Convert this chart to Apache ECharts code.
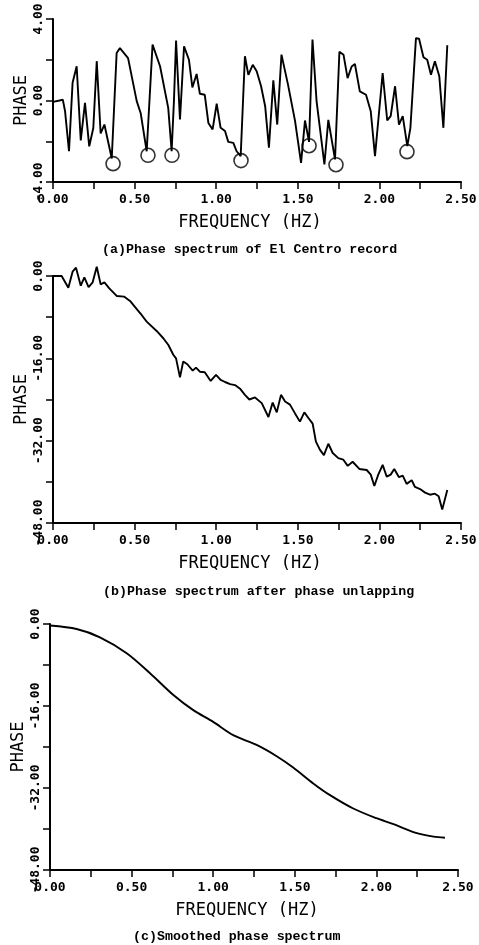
<!DOCTYPE html>
<html>
<head>
<meta charset="utf-8">
<script src="https://cdn.jsdelivr.net/npm/echarts@6/dist/echarts.min.js"></script>
<style>
  html, body { margin: 0; padding: 0; background: #fff; }
  #chart { width: 479px; height: 945px; }
</style>
</head>
<body>
<div id="chart"></div>
<script>
// ---------- Data ----------
var freqA = [0.00,0.04,0.06,0.074,0.098,0.12,0.145,0.17,0.196,0.222,0.247,0.268,0.292,0.315,0.36,0.39,0.41,0.46,0.513,0.537,0.574,0.61,0.656,0.706,0.727,0.741,0.754,0.778,0.803,0.833,0.854,0.88,0.90,0.93,0.952,0.978,1.003,1.027,1.054,1.074,1.105,1.125,1.15,1.176,1.197,1.224,1.248,1.275,1.30,1.323,1.35,1.374,1.40,1.44,1.483,1.52,1.544,1.569,1.59,1.615,1.663,1.687,1.728,1.755,1.78,1.805,1.83,1.85,1.88,1.918,1.947,1.973,2.02,2.048,2.069,2.096,2.12,2.143,2.171,2.19,2.224,2.243,2.27,2.293,2.316,2.34,2.367,2.392,2.416];
var phaseA = [-0.07,0.00,0.04,-0.53,-2.49,0.87,1.68,-1.96,-0.12,-2.25,-1.35,1.93,-1.62,-1.18,-2.85,2.33,2.57,2.08,-0.03,-0.61,-2.49,2.74,1.68,-0.36,-2.49,-0.03,2.94,-0.93,2.66,2.0,0.64,1.3,0.33,0.28,-1.1,-1.42,-0.16,-1.34,-1.5,-2.03,-2.08,-2.49,-2.73,2.17,1.26,1.75,1.44,0.70,-0.28,-2.32,0.99,-1.18,2.25,0.78,-1.0,-3.06,-0.98,-2.03,2.99,-0.03,-3.14,-0.95,-2.89,2.39,2.25,1.1,1.67,1.79,0.45,0.28,-0.53,-2.73,1.35,-0.98,-0.77,0.70,-1.18,-0.77,-2.24,-1.34,3.06,3.03,2.12,2.0,1.26,1.93,1.19,-1.34,2.71];

var circleFreq  = [0.368, 0.582, 0.729, 1.152, 1.569, 1.734, 2.169];
var circlePhase = [-3.10, -2.69, -2.69, -2.95, -2.22, -3.15, -2.51];

var freqB = [0.00,0.053,0.094,0.12,0.141,0.17,0.192,0.218,0.243,0.268,0.292,0.315,0.345,0.39,0.435,0.472,0.517,0.543,0.574,0.635,0.676,0.707,0.737,0.754,0.778,0.798,0.823,0.856,0.876,0.90,0.93,0.966,0.999,1.027,1.054,1.085,1.115,1.146,1.176,1.203,1.238,1.279,1.32,1.346,1.371,1.397,1.422,1.452,1.483,1.513,1.54,1.565,1.591,1.611,1.636,1.66,1.687,1.714,1.748,1.779,1.806,1.836,1.877,1.922,1.947,1.969,1.993,2.02,2.045,2.069,2.091,2.12,2.143,2.167,2.198,2.218,2.249,2.28,2.31,2.34,2.363,2.385,2.416];
var phaseB = [0,0,-2.27,0.84,1.62,-1.88,-0.25,-2.14,-1.23,1.81,-1.62,-1.23,-2.39,-3.88,-4.0,-4.85,-6.6,-7.57,-8.87,-10.68,-12.1,-13.4,-15.3,-16.0,-19.7,-16.6,-17.15,-18.4,-17.8,-18.6,-18.7,-20.4,-19.2,-20.2,-20.6,-21.0,-21.2,-21.9,-23.1,-24.0,-23.6,-24.7,-27.4,-24.6,-26.5,-23.1,-24.4,-25.0,-26.7,-28.3,-26.5,-27.6,-28.7,-32.2,-33.8,-34.8,-32.6,-34.4,-35.4,-35.7,-36.9,-36.1,-37.5,-37.7,-38.6,-40.8,-38.6,-36.7,-39.0,-38.6,-37.5,-39.1,-38.8,-40.4,-39.7,-41.0,-41.4,-42.1,-42.5,-42.3,-42.8,-45.4,-41.6];

var freqC  = [0.0, 0.163, 0.306, 0.47, 0.613, 0.756, 0.878, 1.0, 1.123, 1.266, 1.389, 1.49, 1.613, 1.716, 1.858, 2.0, 2.10, 2.237, 2.35, 2.42];
var phaseC = [-0.3, -0.98, -2.6, -5.7, -9.6, -13.85, -16.8, -19.1, -21.7, -23.6, -25.8, -28.0, -31.1, -33.4, -36.0, -37.9, -39.0, -40.7, -41.5, -41.7];

var xName = 'FREQUENCY (HZ)';
var yName = 'PHASE';
var captions = [
  '(a)Phase spectrum of El Centro record',
  '(b)Phase spectrum after phase unlapping',
  '(c)Smoothed phase spectrum'
];

// ---------- Helpers ----------
function pairs(xs, ys) { return xs.map(function (x, i) { return [x, ys[i]]; }); }
function isMultiple(v, step) { var r = v / step; return Math.abs(r - Math.round(r)) < 1e-6; }

var tickFont = { fontFamily: 'DejaVu Sans Mono', fontWeight: 'bold', fontSize: 13, color: '#000' };
var nameFont = { fontFamily: 'DejaVu Sans Mono', fontSize: 17, color: '#000' };
var lineAxis = { show: true, onZero: false, lineStyle: { color: '#000', width: 2 } };
var tickStyle = { show: true, length: 7, lineStyle: { color: '#000', width: 1.5 } };

function makeX(gi) {
  return {
    type: 'value', gridIndex: gi, min: 0, max: 2.5, interval: 0.25,
    axisLine: lineAxis, axisTick: tickStyle, splitLine: { show: false },
    axisLabel: Object.assign({ margin: 11, formatter: function (v) { return isMultiple(v, 0.5) ? v.toFixed(2) : ''; } }, tickFont),
    name: xName, nameLocation: 'middle', nameGap: 32, nameMoveOverlap: false,
    nameTextStyle: Object.assign({ padding: [0, 14, 0, 0] }, nameFont)
  };
}
function makeY(gi, min, max, interval, labelStep) {
  return {
    type: 'value', gridIndex: gi, min: min, max: max, interval: interval,
    axisLine: lineAxis, axisTick: tickStyle, splitLine: { show: false },
    axisLabel: Object.assign({ rotate: 90, margin: 8, formatter: function (v) { return isMultiple(v, labelStep) ? v.toFixed(2) : ''; } }, tickFont),
    name: yName, nameLocation: 'middle', nameGap: 23, nameRotate: 90, nameMoveOverlap: false,
    nameTextStyle: nameFont
  };
}

var lineStyle = { color: '#000', width: 1.9 };

var option = {
  backgroundColor: '#fff',
  animation: false,
  grid: [
    { left: 53, top: 19, width: 408, height: 163, outerBoundsMode: 'none', containLabel: false },
    { left: 53, top: 276, width: 408, height: 247, outerBoundsMode: 'none', containLabel: false },
    { left: 50, top: 624, width: 408, height: 246, outerBoundsMode: 'none', containLabel: false }
  ],
  xAxis: [makeX(0), makeX(1), makeX(2)],
  yAxis: [makeY(0, -4, 4, 2, 4), makeY(1, -48, 0, 8, 16), makeY(2, -48, 0, 8, 16)],
  series: [
    { type: 'line', xAxisIndex: 0, yAxisIndex: 0, data: pairs(freqA, phaseA), showSymbol: false, clip: false, lineStyle: lineStyle },
    { type: 'scatter', xAxisIndex: 0, yAxisIndex: 0, data: pairs(circleFreq, circlePhase), symbol: 'circle', symbolSize: 14,
      itemStyle: { color: 'rgba(0,0,0,0)', borderColor: '#000', borderWidth: 1.6 } },
    { type: 'line', xAxisIndex: 1, yAxisIndex: 1, data: pairs(freqB, phaseB), showSymbol: false, clip: false, lineStyle: lineStyle },
    { type: 'line', xAxisIndex: 2, yAxisIndex: 2, data: pairs(freqC, phaseC), showSymbol: false, clip: false, smooth: 0.3, lineStyle: lineStyle }
  ],
  graphic: [
    { type: 'text', left: 102, top: 243, style: { text: captions[0], font: 'bold 13.3px "Liberation Mono"', fill: '#000' } },
    { type: 'text', left: 103, top: 585, style: { text: captions[1], font: 'bold 13.3px "Liberation Mono"', fill: '#000' } },
    { type: 'text', left: 133, top: 930, style: { text: captions[2], font: 'bold 13.3px "Liberation Mono"', fill: '#000' } }
  ]
};

var chart = echarts.init(document.getElementById('chart'), null, { renderer: 'canvas' });
chart.setOption(option);
</script>
</body>
</html>
